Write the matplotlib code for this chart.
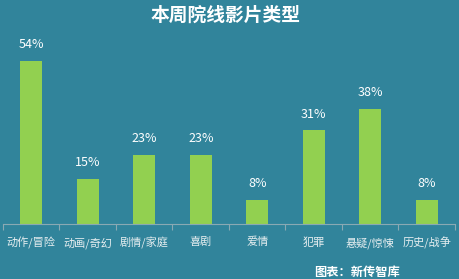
import matplotlib.pyplot as plt

plt.rcParams['font.family'] = ['Noto Sans CJK SC', 'DejaVu Sans']

categories = ["动作/冒险", "动画/奇幻", "剧情/家庭", "喜剧", "爱情", "犯罪", "悬疑/惊悚", "历史/战争"]
values = [54, 15, 23, 23, 8, 31, 38, 8]
labels = ["54%", "15%", "23%", "23%", "8%", "31%", "38%", "8%"]

bg = "#31849b"
green = "#92d050"

fig = plt.figure(figsize=(4.6, 2.79), dpi=100, facecolor=bg)
ax = fig.add_axes([3 / 460, 1 - 224 / 279, 452 / 460, 181 / 279])
ax.set_facecolor(bg)

x = range(len(categories))
ax.bar(x, values, width=0.39, color=green, zorder=2)
for i, v in enumerate(values):
    ax.text(i, v + 3.3, labels[i], ha="center", va="bottom", color="white", fontsize=9)

ax.set_xlim(-0.5, len(categories) - 0.5)
ax.set_ylim(0, 60)
ax.set_yticks([])
for s in ["top", "right", "left"]:
    ax.spines[s].set_visible(False)
ax.spines["bottom"].set_color("#8aa9b3")
ax.spines["bottom"].set_linewidth(0.8)

ax.set_xticks([i - 0.5 for i in range(len(categories) + 1)], minor=False)
ax.set_xticklabels([])
ax.tick_params(axis="x", length=4, color="#8aa9b3", direction="out")
for i, c in enumerate(categories):
    ax.text(i, -4.3, c, ha="center", va="top", color="#e6eef0", fontsize=8)

fig.text(0.49, 0.945, "本周院线影片类型", ha="center", va="center", color="white",
         fontsize=13.5, fontweight="bold")
fig.text(0.776, 0.025, "图表：新传智库", ha="center", va="center", color="white",
         fontsize=8.8, fontweight="bold")

fig.savefig("out.png", dpi=100, facecolor=bg)
